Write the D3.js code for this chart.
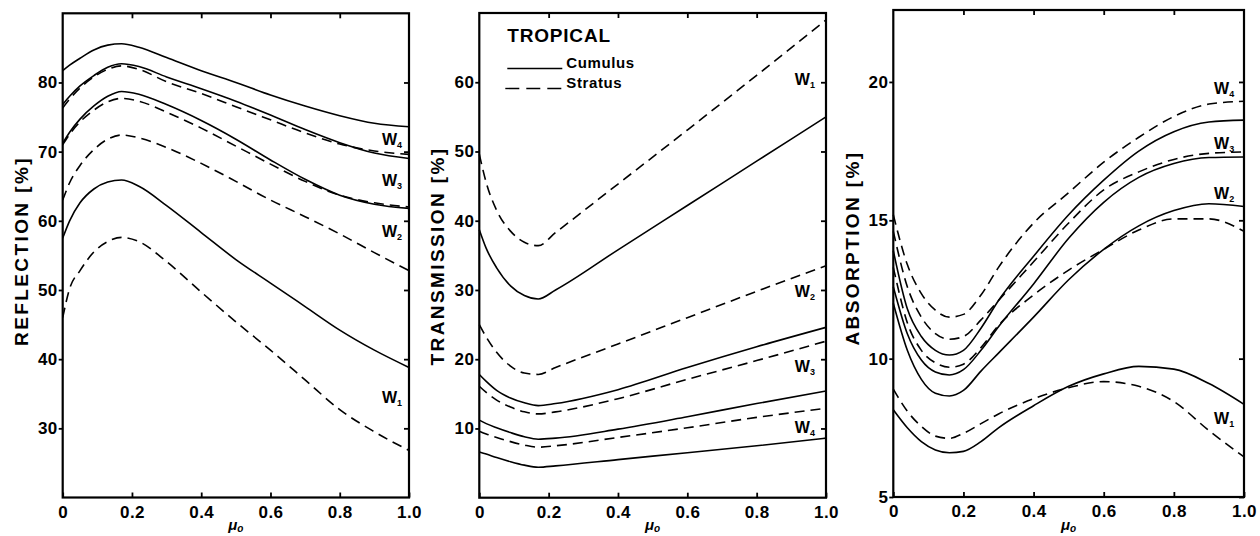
<!DOCTYPE html>
<html>
<head>
<meta charset="utf-8">
<script src="https://cdn.jsdelivr.net/npm/d3@7"></script>
<style>
  body { margin: 0; background: #fff; }
  svg text { font-family: "Liberation Sans", Arial, Helvetica, sans-serif; font-weight: bold; fill: #000; }
</style>
</head>
<body>
<script>
// ---- data (mu_0 sample points and values in %) ----

// Reflection panel
var muRefl = [0, 0.02, 0.05, 0.09, 0.13, 0.17, 0.22, 0.3, 0.4, 0.5, 0.6, 0.7, 0.8, 0.9, 1.0];
var reflCumulusW1 = [57.5, 60.0, 62.6, 64.6, 65.6, 65.9, 65.0, 62.2, 58.3, 54.4, 51.0, 47.6, 44.2, 41.3, 38.8];
var reflCumulusW2 = [71.2, 72.8, 74.7, 76.6, 78.0, 78.7, 78.3, 76.8, 74.5, 71.8, 68.8, 66.0, 63.7, 62.4, 61.8];
var reflCumulusW3 = [76.8, 78.0, 79.5, 81.0, 82.2, 82.7, 82.3, 80.8, 79.1, 77.3, 75.3, 73.2, 71.3, 69.8, 69.0];
var reflCumulusW4 = [81.7, 82.5, 83.5, 84.7, 85.4, 85.6, 85.1, 83.6, 81.7, 80.0, 78.2, 76.6, 75.2, 74.1, 73.6];
var reflStratusW1 = [46.0, 50.2, 52.8, 55.5, 57.0, 57.6, 57.0, 54.1, 49.7, 45.4, 41.3, 37.0, 32.7, 29.5, 26.8];
var reflStratusW2 = [63.0, 65.5, 68.0, 70.3, 71.8, 72.4, 72.0, 70.6, 68.3, 65.7, 63.0, 60.6, 58.1, 55.4, 52.8];
var reflStratusW3 = [71.0, 72.5, 74.3, 76.0, 77.2, 77.7, 77.3, 75.7, 73.4, 70.8, 68.2, 65.7, 63.7, 62.6, 62.0];
var reflStratusW4 = [76.3, 77.6, 79.2, 80.8, 81.9, 82.4, 81.9, 80.1, 78.4, 76.5, 74.6, 72.7, 71.1, 70.1, 69.6];

// Transmission panel
var muTrans = [0, 0.02, 0.05, 0.09, 0.13, 0.17, 0.22, 0.4, 0.6, 0.8, 1.0];
var transCumulusW1 = [38.7, 36.0, 33.2, 30.6, 29.2, 28.7, 30.0, 35.8, 42.2, 48.6, 55.0];
var transCumulusW2 = [17.8, 16.8, 15.5, 14.4, 13.7, 13.3, 13.6, 15.6, 18.8, 21.8, 24.6];
var transCumulusW3 = [11.2, 10.7, 10.1, 9.4, 8.8, 8.45, 8.6, 9.9, 11.7, 13.6, 15.4];
var transCumulusW4 = [6.6, 6.3, 5.8, 5.2, 4.7, 4.4, 4.6, 5.5, 6.5, 7.5, 8.6];
var transStratusW1 = [49.6, 45.5, 41.5, 38.5, 36.9, 36.4, 38.3, 45.3, 53.1, 61.0, 69.0];
var transStratusW2 = [25.0, 23.2, 21.0, 19.0, 18.0, 17.8, 18.8, 22.2, 26.0, 29.8, 33.5];
var transStratusW3 = [16.1, 15.2, 14.1, 13.1, 12.4, 12.1, 12.4, 14.3, 17.1, 19.8, 22.6];
var transStratusW4 = [9.6, 9.2, 8.7, 8.1, 7.6, 7.3, 7.5, 8.7, 10.1, 11.6, 12.9];

// Absorption panel
var muAbs = [0, 0.04, 0.08, 0.12, 0.16, 0.2, 0.25, 0.3, 0.4, 0.5, 0.6, 0.7, 0.8, 0.9, 1.0];
var absCumulusW1 = [8.15, 7.5, 7.0, 6.7, 6.6, 6.65, 7.0, 7.5, 8.3, 9.0, 9.45, 9.72, 9.62, 9.1, 8.35];
var absCumulusW2 = [12.0, 10.3, 9.25, 8.75, 8.65, 8.85, 9.55, 10.2, 11.5, 12.85, 13.95, 14.8, 15.35, 15.6, 15.5];
var absCumulusW3 = [12.6, 10.9, 9.95, 9.52, 9.41, 9.6, 10.3, 11.15, 12.7, 14.35, 15.65, 16.55, 17.05, 17.27, 17.29];
var absCumulusW4 = [13.9, 11.8, 10.8, 10.3, 10.13, 10.3, 11.1, 12.1, 13.7, 15.2, 16.45, 17.5, 18.2, 18.55, 18.62];
var absStratusW1 = [8.9, 8.1, 7.55, 7.2, 7.12, 7.3, 7.65, 8.0, 8.55, 8.95, 9.17, 9.0, 8.45, 7.4, 6.45];
var absStratusW2 = [13.3, 11.3, 10.3, 9.85, 9.69, 9.8, 10.4, 11.2, 12.3, 13.2, 13.95, 14.65, 15.05, 15.05, 14.6];
var absStratusW3 = [14.6, 12.6, 11.5, 10.9, 10.7, 10.8, 11.4, 12.1, 13.5, 14.9, 16.1, 16.75, 17.2, 17.42, 17.47];
var absStratusW4 = [15.2, 13.4, 12.35, 11.75, 11.5, 11.6, 12.3, 13.3, 14.9, 16.0, 17.1, 18.0, 18.75, 19.2, 19.3];

// axis ticks
var xTicks = [0, 0.2, 0.4, 0.6, 0.8, 1.0];
var reflTicks = [30, 40, 50, 60, 70, 80];
var transTicks = [10, 20, 30, 40, 50, 60];
var absTicks = [5, 10, 15, 20];

// curve labels: [subscript, value where the label sits]
var reflLabels = [["4", 71.7], ["3", 65.8], ["2", 58.4], ["1", 34.5]];
var transLabels = [["1", 60.4], ["2", 29.85], ["3", 19.0], ["4", 10.1]];
var absLabels = [["4", 19.76], ["3", 17.78], ["2", 15.97], ["1", 7.84]];

// ---- layout ----
var width = 1260, height = 536;

var panels = [
  { title: "REFLECTION [%]", titleX: 21, titleY: 251,
    xRange: [62.7, 409], yDomain: [20, 90], yRange: [497.5, 13.3], yTicks: reflTicks,
    mu: muRefl, labelMu: 0.98, labels: reflLabels,
    cumulus: [reflCumulusW1, reflCumulusW2, reflCumulusW3, reflCumulusW4],
    stratus: [reflStratusW1, reflStratusW2, reflStratusW3, reflStratusW4] },
  { title: "TRANSMISSION [%]", titleX: 437, titleY: 256,
    xRange: [479.3, 826], yDomain: [0, 70], yRange: [497.7, 13], yTicks: transTicks,
    mu: muTrans, labelMu: 0.968, labels: transLabels, legend: true,
    cumulus: [transCumulusW1, transCumulusW2, transCumulusW3, transCumulusW4],
    stratus: [transStratusW1, transStratusW2, transStratusW3, transStratusW4] },
  { title: "ABSORPTION [%]", titleX: 852, titleY: 248,
    xRange: [893.3, 1244], yDomain: [5, 22.6], yRange: [497, 10], yTicks: absTicks,
    mu: muAbs, labelMu: 0.972, labels: absLabels,
    cumulus: [absCumulusW1, absCumulusW2, absCumulusW3, absCumulusW4],
    stratus: [absStratusW1, absStratusW2, absStratusW3, absStratusW4] }
];

var svg = d3.select("body").append("svg")
  .attr("width", width)
  .attr("height", height);

var dashPattern = "10,6";

panels.forEach(function (p) {
  var x = d3.scaleLinear().domain([0, 1]).range(p.xRange);
  var y = d3.scaleLinear().domain(p.yDomain).range(p.yRange);
  var g = svg.append("g");
  var x0 = x(0), x1 = x(1), yTop = y(p.yDomain[1]), yBot = y(p.yDomain[0]);

  //left axis: outward ticks with labels
  var left = g.append("g").attr("transform", "translate(" + x0 + ",0)")
    .call(d3.axisLeft(y).tickValues(p.yTicks).tickSize(4).tickPadding(1).tickFormat(d3.format("d")));
  //right axis: inward ticks only
  var right = g.append("g").attr("transform", "translate(" + x1 + ",0)")
    .call(d3.axisLeft(y).tickValues(p.yTicks).tickSize(5).tickFormat(""));
  //bottom axis: inward ticks, labels below
  var bottom = g.append("g").attr("transform", "translate(0," + yBot + ")")
    .call(d3.axisBottom(x).tickValues(xTicks).tickSizeInner(-5).tickSizeOuter(0).tickPadding(8)
      .tickFormat(function (d) { return d === 0 ? "0" : d3.format(".1f")(d); }));
  //top axis: inward ticks only
  var top = g.append("g").attr("transform", "translate(0," + yTop + ")")
    .call(d3.axisTop(x).tickValues(xTicks.slice(1, 5)).tickSizeInner(-5).tickSizeOuter(0).tickFormat(""));

  [left, right, bottom, top].forEach(function (a) {
    a.select(".domain").remove();
    a.selectAll("line").attr("stroke", "#000").attr("stroke-width", 1.8);
    a.selectAll("text").attr("font-size", 17).attr("fill", "#000")
      .attr("letter-spacing", 0.4)
      .style("font-family", "'Liberation Sans', Arial, sans-serif").style("font-weight", "bold");
  });

  //frame
  g.append("rect")
    .attr("x", x0).attr("y", yTop)
    .attr("width", x1 - x0).attr("height", yBot - yTop)
    .attr("fill", "none").attr("stroke", "#000").attr("stroke-width", 2.2);

  var line = d3.line()
    .x(function (d) { return x(d[0]); })
    .y(function (d) { return y(d[1]); })
    .curve(d3.curveMonotoneX);

  p.cumulus.forEach(function (s) {
    g.append("path").datum(d3.zip(p.mu, s))
      .attr("d", line).attr("fill", "none")
      .attr("stroke", "#000").attr("stroke-width", 1.6);
  });
  p.stratus.forEach(function (s) {
    g.append("path").datum(d3.zip(p.mu, s))
      .attr("d", line).attr("fill", "none")
      .attr("stroke", "#000").attr("stroke-width", 1.6)
      .attr("stroke-dasharray", dashPattern);
  });

  //W labels
  p.labels.forEach(function (l) {
    var t = g.append("text")
      .attr("x", x(p.labelMu)).attr("y", y(l[1]))
      .attr("dy", "0.35em")
      .attr("text-anchor", "end")
      .attr("font-size", 16);
    t.append("tspan").text("W");
    t.append("tspan").attr("font-size", 9).attr("dy", 3).text(l[0]);
  });

  //y axis title
  g.append("text")
    .attr("transform", "translate(" + p.titleX + "," + p.titleY + ") rotate(-90)")
    .attr("text-anchor", "middle")
    .attr("dy", "0.35em")
    .attr("font-size", 19)
    .attr("letter-spacing", 2.4)
    .text(p.title);

  //x axis title, right at the bottom edge
  var xt = g.append("text")
    .attr("x", (x0 + x1) / 2).attr("y", 530)
    .attr("text-anchor", "middle")
    .attr("font-size", 15)
    .attr("font-style", "italic");
  xt.append("tspan").text("\u03bc");
  xt.append("tspan").attr("font-size", 10).attr("dy", 2).text("o");

  if (p.legend) {
    var lx = x0 + 28;
    g.append("text").attr("x", lx).attr("y", 41.5)
      .attr("font-size", 19).attr("letter-spacing", 0.8).text("TROPICAL");
    g.append("line").attr("x1", lx).attr("x2", lx + 55).attr("y1", 68.5).attr("y2", 68.5)
      .attr("stroke", "#000").attr("stroke-width", 1.4);
    g.append("text").attr("x", lx + 59).attr("y", 68)
      .attr("font-size", 15).attr("letter-spacing", 0.6).text("Cumulus");
    g.append("line").attr("x1", lx - 2).attr("x2", lx + 54).attr("y1", 88.5).attr("y2", 88.5)
      .attr("stroke", "#000").attr("stroke-width", 1.4).attr("stroke-dasharray", "14,7");
    g.append("text").attr("x", lx + 59).attr("y", 88)
      .attr("font-size", 15).attr("letter-spacing", 0.6).text("Stratus");
  }
});
</script>
</body>
</html>
